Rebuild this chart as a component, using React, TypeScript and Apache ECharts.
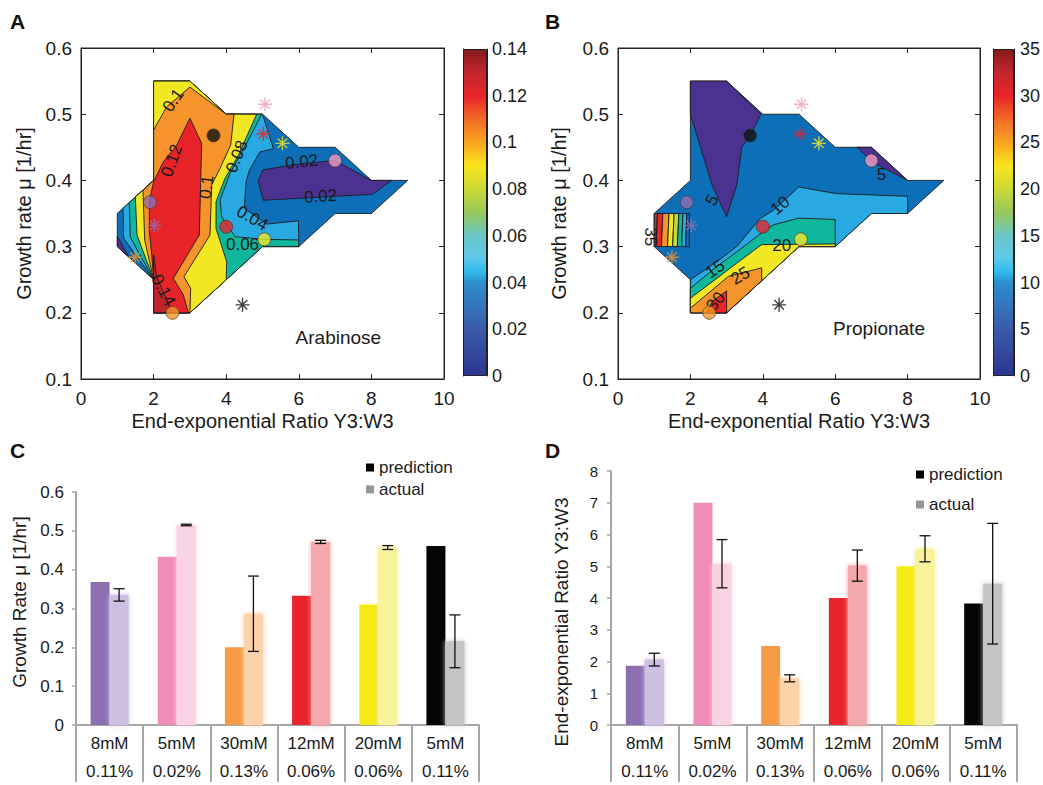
import React, { useEffect, useRef } from 'react';
import * as echarts from 'echarts';

const FONT = "'Liberation Sans', Arial, Helvetica, sans-serif";
const INK = '#1a1a1a';

// ---------- Panels A & B : markers (prediction = circles, actual = stars)
const markerColors = ['#8e6fb1', '#f49ac1', '#f59424', '#e8242a', '#f2e824', '#111111'];
const circleRatio = [1.9, 7.0, 2.52, 4.0, 5.05, 3.65];
const circleGrowth = [0.367, 0.43, 0.2, 0.33, 0.311, 0.468];
const starRatio = [2.02, 5.07, 1.49, 5.02, 5.55, 4.45];
const starGrowth = [0.332, 0.515, 0.284, 0.47, 0.456, 0.212];

// ---------- contour domain (same grid for A and B)
const domainOutline = [[2, 0.55], [3, 0.55], [4, 0.5], [5, 0.5], [6, 0.45], [7, 0.45], [8, 0.4], [9, 0.4], [8, 0.35], [7, 0.35], [6, 0.3], [5, 0.3], [3, 0.2], [2, 0.2], [2, 0.25], [1, 0.3], [1, 0.35], [2, 0.4]];

// ---------- Panel A (Arabinose) filled-contour regions
const arabPurpleLeft = [[1, 0.3], [1, 0.316], [1.32, 0.284]];
const arabPurpleRight = [[5.02, 0.416], [5.9, 0.424], [7.0, 0.43], [8.0, 0.4], [8.56, 0.4], [8.03, 0.379], [5.02, 0.37], [4.88, 0.4]];
const arabGe004 = [[2, 0.55], [3, 0.55], [4, 0.5], [5, 0.5], [5.3, 0.448], [4.93, 0.443], [4.64, 0.4155], [4.546, 0.398], [4.5, 0.358], [5.115, 0.334], [5.99, 0.339], [6, 0.3], [5, 0.3], [3, 0.2], [2, 0.2], [2, 0.25], [1.175, 0.3125], [1.157, 0.358], [2, 0.4]];
const arabGe006 = [[2, 0.55], [3, 0.55], [4, 0.5], [4.977, 0.5], [4.61, 0.4608], [4.105, 0.4105], [3.83, 0.3703], [3.875, 0.345], [4.243, 0.315], [5.023, 0.311], [5.99, 0.31], [6, 0.3], [5, 0.3], [3, 0.2], [2, 0.2], [2, 0.25], [1.36, 0.314], [1.33, 0.3665], [2, 0.4]];
const arabGe008 = [[2, 0.55], [3, 0.55], [4, 0.5], [4.84, 0.5], [4.334, 0.438], [3.967, 0.403], [3.72, 0.368], [3.72, 0.3275], [4.013, 0.277], [4.0, 0.25], [3, 0.2], [2, 0.2], [2, 0.25], [1.543, 0.3175], [1.497, 0.375], [2, 0.4]];
const arabGe010 = [[2, 0.476], [2.36, 0.511], [3.0, 0.541], [4, 0.5], [4.215, 0.5], [4.123, 0.4532], [3.829, 0.418], [3.6, 0.393], [3.554, 0.3175], [2.837, 0.2547], [3.02, 0.237], [3, 0.2], [2, 0.2], [2, 0.25], [1.754, 0.31], [1.708, 0.385], [2, 0.4]];
const arabGe012 = [[3.0, 0.494], [3.324, 0.456], [3.26, 0.3175], [2.544, 0.252], [2.82, 0.227], [2.957, 0.2], [2, 0.2], [2, 0.25], [1.95, 0.287], [1.883, 0.3225], [1.883, 0.368], [2.0, 0.398], [2.268, 0.428], [2.636, 0.453]];
const arabGe014 = [[2, 0.2], [2, 0.288], [2.08, 0.255], [2.36, 0.22], [2.5, 0.2]];

// ---------- Panel B (Propionate) filled-contour regions
const propPurpleTop = [[2, 0.55], [3, 0.55], [3.95, 0.5], [3.65, 0.468], [3.42, 0.45], [3.28, 0.393], [3.0, 0.345], [2.6, 0.393], [2, 0.5]];
const propPurpleRight = [[6.6, 0.45], [7, 0.45], [8, 0.4], [7.05, 0.427]];
const propGe10 = [[2, 0.25], [2.73, 0.277], [3.28, 0.3], [3.93, 0.3426], [4.3, 0.355], [4.99, 0.39], [6.04, 0.38], [8, 0.376], [8, 0.35], [7, 0.35], [6, 0.3], [5, 0.3], [3, 0.2], [2, 0.2]];
const propGe15 = [[2, 0.237], [2.73, 0.27], [3.28, 0.292], [3.9, 0.318], [4.3, 0.333], [4.99, 0.343], [6.0, 0.341], [6, 0.3], [5, 0.3], [3, 0.2], [2, 0.2]];
const propGe20 = [[2, 0.222], [2.73, 0.252], [3.28, 0.275], [3.97, 0.303], [6.0, 0.304], [6, 0.3], [5, 0.3], [3, 0.2], [2, 0.2]];
const propGe25 = [[2, 0.207], [3.05, 0.255], [3.97, 0.268], [3.97, 0.2486], [3, 0.2], [2, 0.2]];
const propGe30 = [[2.45, 0.2], [2.6, 0.217], [3.0, 0.233], [3.0, 0.2]];
// striped box at the left edge of B
const stripeBottomX = [1.0, 1.05, 1.2, 1.37, 1.51, 1.64, 1.76, 1.87, 1.97];
const stripeTopX = [1.0, 1.09, 1.24, 1.41, 1.55, 1.68, 1.79, 1.9, 1.97];
const stripeColors = ['#8f4a36', '#e8242a', '#f5942a', '#f1e723', '#c3d94a', '#0fb79d', '#29a9e1', '#0d6fb8'];

// ---------- contour labels
const arabLabels = [
  { t: '0.1', x: 2.54, y: 0.521, r: 55 },
  { t: '0.12', x: 2.5, y: 0.43, r: 70 },
  { t: '0.1', x: 3.46, y: 0.39, r: 82 },
  { t: '0.08', x: 4.29, y: 0.436, r: 68 },
  { t: '0.02', x: 6.08, y: 0.428, r: 6 },
  { t: '0.02', x: 6.6, y: 0.376, r: 4 },
  { t: '0.04', x: 4.72, y: 0.343, r: -30 },
  { t: '0.06', x: 4.45, y: 0.303, r: 0 },
  { t: '0.14', x: 2.27, y: 0.234, r: -62 },
];
const propLabels = [
  { t: '5', x: 2.6, y: 0.37, r: 60 },
  { t: '10', x: 4.48, y: 0.362, r: 40 },
  { t: '15', x: 2.68, y: 0.266, r: 35 },
  { t: '20', x: 4.52, y: 0.301, r: 0 },
  { t: '25', x: 3.38, y: 0.256, r: 30 },
  { t: '30', x: 2.7, y: 0.217, r: 50 },
  { t: '5', x: 7.28, y: 0.409, r: 0 },
  { t: '35', x: 0.9, y: 0.315, r: -90 },
];
const arabName = { t: 'Arabinose', x: 7.09, y: 0.162 };
const propName = { t: 'Propionate', x: 7.21, y: 0.176 };

// ---------- Panels C & D : bars
const concLabels = ['8mM', '5mM', '30mM', '12mM', '20mM', '5mM'];
const pctLabels = ['0.11%', '0.02%', '0.13%', '0.06%', '0.06%', '0.11%'];
const predColors = ['#8e6fb1', '#f28cba', '#f59b45', '#e8232a', '#f6ea14', '#050505'];
const actualColors = ['#cdbfe0', '#f8d3e3', '#fcd2a9', '#f5a8ab', '#f8f29a', '#c4c4c4'];
const growthPred = [0.368, 0.4335, 0.2, 0.333, 0.31, 0.461];
const growthActual = [0.335, 0.515, 0.2865, 0.4715, 0.457, 0.2155];
const growthErr = [0.016, 0.002, 0.097, 0.004, 0.005, 0.068];
const ratioPred = [1.87, 7.0, 2.49, 4.0, 5.0, 3.83];
const ratioActual = [2.06, 5.08, 1.47, 5.02, 5.55, 4.45];
const ratioErr = [0.2, 0.76, 0.11, 0.49, 0.41, 1.9];

// colormap (jet-like) used by both colorbars, top -> bottom
const colorbarStops = [
  [0, '#861a1c'], [0.07, '#c1272d'], [0.143, '#e9242a'], [0.214, '#f26a26'], [0.286, '#f8a51f'],
  [0.357, '#f9e51c'], [0.43, '#cbd936'], [0.5, '#97c85c'], [0.57, '#6cc6c6'], [0.64, '#5ec9e9'],
  [0.68, '#31bdee'], [0.714, '#2d8fcf'], [0.857, '#3b5ba8'], [1, '#2c3590'],
];

const C_PURPLE = '#4b3290', C_DBLUE = '#0d6fb8', C_LBLUE = '#29a9e1', C_TEAL = '#0fb79d';
const C_YELLOW = '#f1e723', C_ORANGE = '#f5942a', C_RED = '#e82429', C_DRED = '#be252c';

const BAR_W = 19;

function polySeries(regions: { pts: number[][]; color: string }[], xi: number, yi: number) {
  return {
    type: 'custom', xAxisIndex: xi, yAxisIndex: yi, silent: true, z: 2,
    data: regions.map((r, i) => [r.pts[0][0], r.pts[0][1], i]),
    renderItem: (params: any, api: any) => {
      const r = regions[params.dataIndex];
      return {
        type: 'polygon',
        shape: { points: r.pts.map((p) => api.coord(p)) },
        style: { fill: r.color, stroke: '#1c1c1c', lineWidth: 0.9 },
      };
    },
  };
}

function textSeries(labels: { t: string; x: number; y: number; r?: number }[], xi: number, yi: number, fontSize: number) {
  return {
    type: 'custom', xAxisIndex: xi, yAxisIndex: yi, silent: true, z: 6,
    data: labels.map((l) => [l.x, l.y]),
    renderItem: (params: any, api: any) => {
      const l = labels[params.dataIndex];
      const p = api.coord([l.x, l.y]);
      return {
        type: 'text', x: p[0], y: p[1], rotation: ((l.r || 0) * Math.PI) / 180,
        style: { text: l.t, fontSize, fontFamily: FONT, fill: INK, align: 'center', verticalAlign: 'middle' },
      };
    },
  };
}

const STAR = 'path://M0,5L10,5M5,0L5,10M1.6,1.6L8.4,8.4M1.6,8.4L8.4,1.6';

function markerSeries(xi: number, yi: number) {
  return [
    {
      type: 'scatter', xAxisIndex: xi, yAxisIndex: yi, silent: true, z: 8, symbol: 'circle', symbolSize: 13,
      data: circleRatio.map((x, i) => ({ value: [x, circleGrowth[i]], itemStyle: { color: markerColors[i], borderColor: '#333', borderWidth: 0.8 } })),
    },
    {
      type: 'scatter', xAxisIndex: xi, yAxisIndex: yi, silent: true, z: 8, symbol: STAR, symbolSize: 14,
      data: starRatio.map((x, i) => ({ value: [x, starGrowth[i]], itemStyle: { color: 'rgba(0,0,0,0)', borderColor: markerColors[i], borderWidth: 1.4 } })),
    },
  ];
}

function errorSeries(values: number[], errs: number[], xi: number, yi: number) {
  return {
    type: 'custom', xAxisIndex: xi, yAxisIndex: yi, silent: true, z: 10,
    data: values.map((v, i) => [i, v, errs[i]]),
    renderItem: (params: any, api: any) => {
      const i = api.value(0), v = api.value(1), e = api.value(2);
      const top = api.coord([i, v + e]);
      const bot = api.coord([i, v - e]);
      const x = top[0] + BAR_W / 2;
      const st = { stroke: '#111', lineWidth: 1.3 };
      return {
        type: 'group',
        children: [
          { type: 'line', shape: { x1: x, y1: top[1], x2: x, y2: bot[1] }, style: st },
          { type: 'line', shape: { x1: x - 5.5, y1: top[1], x2: x + 5.5, y2: top[1] }, style: st },
          { type: 'line', shape: { x1: x - 5.5, y1: bot[1], x2: x + 5.5, y2: bot[1] }, style: st },
        ],
      };
    },
  };
}

function boxAxes(gridIndex: number, name: string) {
  const tick = { inside: true, length: 5, lineStyle: { color: '#222' } };
  const line = { show: true, onZero: false, lineStyle: { color: '#222', width: 1 } };
  const label = { color: INK, fontSize: 19, fontFamily: FONT };
  return {
    x: [
      {
        gridIndex, type: 'value', min: 0, max: 10, interval: 2, position: 'bottom', axisLine: line, axisTick: tick,
        axisLabel: { ...label, margin: 10 }, splitLine: { show: false },
        name: 'End-exponential Ratio Y3:W3', nameLocation: 'middle', nameGap: 32,
        nameTextStyle: { fontSize: 20, color: INK, fontFamily: FONT },
      },
      { gridIndex, type: 'value', min: 0, max: 10, interval: 2, position: 'top', axisLine: line, axisTick: tick, axisLabel: { show: false }, splitLine: { show: false } },
    ],
    y: [
      {
        gridIndex, type: 'value', min: 0.1, max: 0.6, interval: 0.1, position: 'left', axisLine: line, axisTick: tick,
        axisLabel: { ...label, margin: 9 }, splitLine: { show: false },
        name, nameLocation: 'middle', nameGap: gridIndex === 0 ? 47 : 49,
        nameTextStyle: { fontSize: 20, color: INK, fontFamily: FONT },
      },
      { gridIndex, type: 'value', min: 0.1, max: 0.6, interval: 0.1, position: 'right', axisLine: line, axisTick: tick, axisLabel: { show: false }, splitLine: { show: false } },
    ],
  };
}

function colorbarAxes(gridIndex: number, max: number, interval: number, margin: number) {
  const tick = { inside: true, length: 4, lineStyle: { color: '#222' } };
  const line = { show: true, lineStyle: { color: '#222', width: 1 } };
  return {
    x: { gridIndex, type: 'category', data: [''], show: false },
    y: [
      {
        gridIndex, type: 'value', min: 0, max, interval, position: 'right', axisLine: line, axisTick: tick,
        axisLabel: { color: INK, fontSize: 18, fontFamily: FONT, margin }, splitLine: { show: false },
      },
      { gridIndex, type: 'value', min: 0, max, interval, position: 'left', axisLine: line, axisTick: tick, axisLabel: { show: false }, splitLine: { show: false } },
    ],
  };
}

function barAxes(gridIndex: number, max: number, interval: number, labelSize: number, labelMargin: number) {
  const gray = '#a6a6a6';
  return {
    x: {
      gridIndex, type: 'category', data: concLabels,
      axisLine: { show: true, lineStyle: { color: gray, width: 2 } },
      axisTick: { show: true, length: 57, interval: 0, lineStyle: { color: gray, width: 2 } },
      axisLabel: {
        interval: 0, margin: 4, color: INK, fontSize: 17, fontFamily: FONT, lineHeight: 28,
        formatter: (v: string, i: number) => `${v}\n${pctLabels[i]}`,
      },
    },
    y: {
      gridIndex, type: 'value', min: 0, max, interval,
      axisLine: { show: true, lineStyle: { color: gray, width: 2 } },
      axisTick: { show: true, length: 4, lineStyle: { color: gray, width: 1.5 } },
      axisLabel: { color: INK, fontSize: labelSize, fontFamily: FONT, margin: labelMargin },
      splitLine: { show: false },
    },
  };
}

function barSeries(pred: number[], actual: number[], xi: number, yi: number) {
  return [
    {
      type: 'bar', name: 'prediction', xAxisIndex: xi, yAxisIndex: yi, barWidth: BAR_W, barGap: '0%', z: 3,
      itemStyle: { color: '#000000' },
      data: pred.map((v, i) => ({ value: v, itemStyle: { color: predColors[i] } })),
    },
    {
      type: 'bar', name: 'actual', xAxisIndex: xi, yAxisIndex: yi, barWidth: BAR_W, barGap: '0%', z: 3,
      itemStyle: { color: '#959595' },
      data: actual.map((v, i) => ({ value: v, itemStyle: { color: actualColors[i], shadowBlur: 5, shadowColor: actualColors[i] } })),
    },
  ];
}

export default function App() {
  const ref = useRef<HTMLDivElement>(null);
  useEffect(() => {
    if (!ref.current) return;
    const chart = echarts.init(ref.current, undefined, { renderer: 'svg' });

    const regionsA = [
      { pts: domainOutline, color: C_DBLUE },
      { pts: arabPurpleLeft, color: C_PURPLE },
      { pts: arabPurpleRight, color: C_PURPLE },
      { pts: arabGe004, color: C_LBLUE },
      { pts: arabGe006, color: C_TEAL },
      { pts: arabGe008, color: C_YELLOW },
      { pts: arabGe010, color: C_ORANGE },
      { pts: arabGe012, color: C_RED },
      { pts: arabGe014, color: C_DRED },
    ];
    const stripes = stripeColors.map((c, i) => ({
      pts: [[stripeBottomX[i], 0.3], [stripeBottomX[i + 1], 0.3], [stripeTopX[i + 1], 0.35], [stripeTopX[i], 0.35]],
      color: c,
    }));
    const regionsB = [
      { pts: domainOutline, color: C_DBLUE },
      { pts: propPurpleTop, color: C_PURPLE },
      { pts: propPurpleRight, color: C_PURPLE },
      { pts: propGe10, color: C_LBLUE },
      { pts: propGe15, color: C_TEAL },
      { pts: propGe20, color: C_YELLOW },
      { pts: propGe25, color: C_ORANGE },
      { pts: propGe30, color: C_RED },
      ...stripes,
    ];

    const aAx = boxAxes(0, 'Growth rate μ [1/hr]');
    const bAx = boxAxes(2, 'Growth rate μ [1/hr]');
    const aCb = colorbarAxes(1, 0.14, 0.02, 5);
    const bCb = colorbarAxes(3, 35, 5, 6);
    const cAx = barAxes(4, 0.6, 0.1, 17, 12);
    const dAx = barAxes(5, 8, 1, 15, 13);

    const gradient = {
      type: 'linear', x: 0, y: 0, x2: 0, y2: 1,
      colorStops: colorbarStops.map(([o, c]) => ({ offset: o as number, color: c as string })),
    };

    const legendBase = {
      orient: 'vertical', icon: 'rect', itemWidth: 8, itemHeight: 8, padding: 0, selectedMode: false,
      data: ['prediction', 'actual'],
      textStyle: { fontSize: 17, fontFamily: FONT, color: INK },
    };
    const titleStyle = { fontSize: 19, fontFamily: FONT, fill: INK, align: 'center', verticalAlign: 'middle' };
    const letter = (t: string, left: number, top: number) => ({
      type: 'text', left, top, style: { text: t, fontSize: 21, fontWeight: 'bold', fontFamily: FONT, fill: '#111' },
    });

    const option: any = {
      animation: false,
      backgroundColor: '#ffffff',
      textStyle: { fontFamily: FONT },
      grid: [
        { left: 81, top: 48, width: 363, height: 331, show: true, borderColor: '#222', borderWidth: 1 },
        { left: 463, top: 49, width: 24, height: 327 },
        { left: 618, top: 48, width: 362, height: 331, show: true, borderColor: '#222', borderWidth: 1 },
        { left: 993, top: 49, width: 24, height: 327 },
        { left: 76, top: 492, width: 403, height: 236 },
        { left: 611, top: 471, width: 406, height: 257 },
      ],
      xAxis: [aAx.x[0], aAx.x[1], aCb.x, bAx.x[0], bAx.x[1], bCb.x, cAx.x, dAx.x],
      yAxis: [aAx.y[0], aAx.y[1], aCb.y[0], aCb.y[1], bAx.y[0], bAx.y[1], bCb.y[0], bCb.y[1], cAx.y, dAx.y],
      legend: [
        { ...legendBase, left: 366, top: 459, itemGap: 5 },
        { ...legendBase, left: 916, top: 466, itemGap: 13 },
      ],
      graphic: [
        letter('A', 10, 11),
        letter('B', 545, 11),
        letter('C', 10, 440),
        letter('D', 545, 440),
        { type: 'text', x: 19, y: 602, rotation: Math.PI / 2, style: { ...titleStyle, text: 'Growth Rate μ [1/hr]' } },
        { type: 'text', x: 561, y: 622, rotation: Math.PI / 2, style: { ...titleStyle, text: 'End-exponential Ratio Y3:W3' } },
      ],
      series: [
        polySeries(regionsA, 0, 0),
        textSeries(arabLabels, 0, 0, 17),
        textSeries([arabName], 0, 0, 19),
        ...markerSeries(0, 0),
        { type: 'bar', xAxisIndex: 2, yAxisIndex: 2, barWidth: '100%', silent: true, data: [0.14], itemStyle: { color: gradient, borderColor: '#222', borderWidth: 1 } },
        polySeries(regionsB, 3, 4),
        textSeries(propLabels, 3, 4, 17),
        textSeries([propName], 3, 4, 19),
        ...markerSeries(3, 4),
        { type: 'bar', xAxisIndex: 5, yAxisIndex: 6, barWidth: '100%', silent: true, data: [35], itemStyle: { color: gradient, borderColor: '#222', borderWidth: 1 } },
        ...barSeries(growthPred, growthActual, 6, 8),
        errorSeries(growthActual, growthErr, 6, 8),
        ...barSeries(ratioPred, ratioActual, 7, 9),
        errorSeries(ratioActual, ratioErr, 7, 9),
      ],
    };
    chart.setOption(option);
    return () => chart.dispose();
  }, []);
  return <div ref={ref} style={{ position: 'absolute', left: 0, top: 0, width: 1043, height: 785, background: '#fff' }} />;
}
